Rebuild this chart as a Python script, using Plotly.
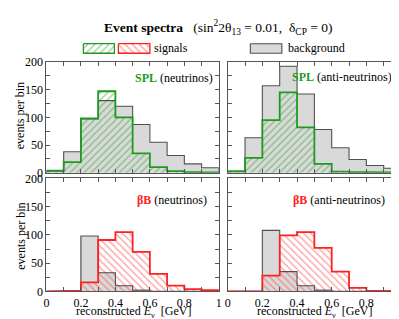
import plotly.graph_objects as go

# ---------------- data ----------------
bin_edges = [0.0, 0.1, 0.2, 0.3, 0.4, 0.5, 0.6, 0.7, 0.8, 0.9, 1.0]

spl_nu_signal = [4, 19, 98, 147, 100, 35, 10, 3, 1, 0.5]
spl_nu_background = [3, 38, 97, 130, 120, 87, 55, 31, 16, 9]

spl_anu_signal = [3, 27, 95, 145, 82, 16, 2, 1, 1, 0.5]
spl_anu_background = [2, 63, 157, 192, 142, 78, 45, 24, 13, 8]

bb_nu_signal = [0, 1, 16, 91, 105, 70, 31, 10, 4, 2]
bb_nu_background = [0, 0, 98, 33, 10, 2, 0, 0, 0, 0]

bb_anu_signal = [0, 0.5, 28, 99, 105, 77, 35, 6, 1, 0.5]
bb_anu_background = [0, 0, 108, 35, 10, 2, 0, 0, 0, 0]

x_tick_values = [0.0, 0.1, 0.2, 0.3, 0.4, 0.5, 0.6, 0.7, 0.8, 0.9, 1.0]
x_tick_labels = ["0", "", "0.2", "", "0.4", "", "0.6", "", "0.8", "", "1"]
y_tick_values = [0, 25, 50, 75, 100, 125, 150, 175, 200]
y_tick_labels = ["0", "", "50", "", "100", "", "150", "", "200"]

# ---------------- style ----------------
W, H = 399, 319
FONT = "Liberation Serif, Times New Roman, serif"
GREEN = "#1e9b1e"
GREEN_HATCH = "#36a336"
RED = "#ff2020"
RED_HATCH = "#ff4444"
GREY_FILL = "#d9d9d9"
GREY_LINE = "#505050"
AXIS_COL = "#555555"


def px(x):
    return x / W


def py(y):
    return 1 - y / H


centers = [(bin_edges[i] + bin_edges[i + 1]) / 2 for i in range(len(bin_edges) - 1)]
widths = [bin_edges[i + 1] - bin_edges[i] for i in range(len(bin_edges) - 1)]


def step_xy(vals):
    xs = [bin_edges[0]]
    ys = [0]
    for i, v in enumerate(vals):
        xs += [bin_edges[i], bin_edges[i + 1]]
        ys += [v, v]
    xs.append(bin_edges[-1])
    ys.append(0)
    return xs, ys


fig = go.Figure()

panels = [
    ("x", "y", spl_nu_signal, spl_nu_background, GREEN, GREEN_HATCH, "/"),
    ("x2", "y2", spl_anu_signal, spl_anu_background, GREEN, GREEN_HATCH, "/"),
    ("x3", "y3", bb_nu_signal, bb_nu_background, RED, RED_HATCH, "\\"),
    ("x4", "y4", bb_anu_signal, bb_anu_background, RED, RED_HATCH, "\\"),
]

for xa, ya, sig, bg, lc, hc, shp in panels:
    fig.add_trace(go.Bar(
        x=centers, y=bg, width=widths, xaxis=xa, yaxis=ya,
        marker=dict(color=GREY_FILL, line=dict(width=0)),
        showlegend=False, hoverinfo="skip"))
    fig.add_trace(go.Bar(
        x=centers, y=sig, width=widths, xaxis=xa, yaxis=ya,
        marker=dict(color="rgba(0,0,0,0)", line=dict(width=0),
                    pattern=dict(shape=shp, fgcolor=hc, bgcolor="rgba(0,0,0,0)",
                                 size=5, solidity=0.28)),
        showlegend=False, hoverinfo="skip"))
    bx, byv = step_xy(bg)
    fig.add_trace(go.Scatter(
        x=bx, y=byv, xaxis=xa, yaxis=ya, mode="lines",
        line=dict(color=GREY_LINE, width=1.1),
        showlegend=False, hoverinfo="skip"))
    sx, syv = step_xy(sig)
    fig.add_trace(go.Scatter(
        x=sx, y=syv, xaxis=xa, yaxis=ya, mode="lines",
        line=dict(color=lc, width=1.8),
        showlegend=False, hoverinfo="skip"))

# legend swatches (drawn in a pixel-coordinate overlay axis)
def box(x0, x1, y0, y1):
    return [x0, x1, x1, x0, x0], [y0, y0, y1, y1, y0]

bxs, bys = box(73.5, 105, 30, 40)
fig.add_trace(go.Scatter(x=bxs, y=bys, xaxis="x5", yaxis="y5", mode="lines",
                         fill="toself", fillcolor="white",
                         fillpattern=dict(shape="/", fgcolor=GREEN_HATCH, bgcolor="white",
                                          size=5, solidity=0.28),
                         line=dict(color=GREEN, width=1.3),
                         showlegend=False, hoverinfo="skip"))
bxs, bys = box(109, 141, 30, 40)
fig.add_trace(go.Scatter(x=bxs, y=bys, xaxis="x5", yaxis="y5", mode="lines",
                         fill="toself", fillcolor="white",
                         fillpattern=dict(shape="\\", fgcolor=RED_HATCH, bgcolor="white",
                                          size=5, solidity=0.28),
                         line=dict(color=RED, width=1.3),
                         showlegend=False, hoverinfo="skip"))
bxs, bys = box(243, 275, 30, 40)
fig.add_trace(go.Scatter(x=bxs, y=bys, xaxis="x5", yaxis="y5", mode="lines",
                         fill="toself", fillcolor=GREY_FILL,
                         line=dict(color=GREY_LINE, width=1.1),
                         showlegend=False, hoverinfo="skip"))

xdom_l = [px(36), px(211)]
xdom_r = [px(220), px(396)]
ydom_t = [py(165), py(49)]
ydom_b = [py(289), py(171)]

axis_common = dict(showline=True, linecolor=AXIS_COL, linewidth=1, mirror="allticks",
                   ticks="inside", ticklen=4, tickwidth=1, tickcolor=AXIS_COL,
                   showgrid=False, zeroline=False,
                   tickfont=dict(family=FONT, size=12, color="black"))


def xax(dom, anchor, labels):
    d = dict(axis_common)
    d.update(domain=dom, anchor=anchor, range=[0, 1], tickmode="array",
             tickvals=x_tick_values,
             ticktext=x_tick_labels if labels else [""] * len(x_tick_values))
    return d


def yax(dom, anchor, labels):
    d = dict(axis_common)
    d.update(domain=dom, anchor=anchor, range=[0, 200], tickmode="array",
             tickvals=y_tick_values,
             ticktext=y_tick_labels if labels else [""] * len(y_tick_values))
    return d


fig.update_layout(
    width=W, height=H,
    margin=dict(l=0, r=0, t=0, b=0),
    paper_bgcolor="white", plot_bgcolor="rgba(0,0,0,0)",
    barmode="overlay", bargap=0,
    font=dict(family=FONT, size=12, color="black"),
    xaxis=xax(xdom_l, "y", False), yaxis=yax(ydom_t, "x", True),
    xaxis2=xax(xdom_r, "y2", False), yaxis2=yax(ydom_t, "x2", False),
    xaxis3=xax(xdom_l, "y3", True), yaxis3=yax(ydom_b, "x3", True),
    xaxis4=xax(xdom_r, "y4", True), yaxis4=yax(ydom_b, "x4", False),
    xaxis5=dict(domain=[0, 1], anchor="y5", range=[0, W], visible=False, fixedrange=True),
    yaxis5=dict(domain=[0, 1], anchor="x5", range=[H, 0], visible=False, fixedrange=True),
)

NB = "\u00a0"
ann = [
    dict(text="<b>Event spectra</b>" + NB * 3 + "(sin<sup>2</sup>2θ<sub>13</sub> = 0.01," + NB * 2 +
         "δ<sub>CP</sub> = 0)",
         x=px(211), y=py(13), xanchor="center", yanchor="middle", font=dict(size=13.5)),
    dict(text="signals", x=px(143.5), y=py(35), xanchor="left", yanchor="middle"),
    dict(text="background", x=px(279.5), y=py(35), xanchor="left", yanchor="middle"),
    dict(text=f"<span style='color:{GREEN}'><b>SPL</b></span> (neutrinos)",
         x=px(207), y=py(66), xanchor="right", yanchor="middle"),
    dict(text=f"<span style='color:{GREEN}'><b>SPL</b></span> (anti-neutrinos)",
         x=px(389), y=py(65), xanchor="right", yanchor="middle"),
    dict(text=f"<span style='color:{RED}'><b>βB</b></span> (neutrinos)",
         x=px(126), y=py(193), xanchor="left", yanchor="middle"),
    dict(text=f"<span style='color:{RED}'><b>βB</b></span> (anti-neutrinos)",
         x=px(284), y=py(193), xanchor="left", yanchor="middle"),
    dict(text="events per bin", x=px(10), y=py(105), textangle=-90,
         xanchor="center", yanchor="middle"),
    dict(text="events per bin", x=px(10), y=py(231), textangle=-90,
         xanchor="center", yanchor="middle"),
    dict(text="reconstructed <i>E</i><sub>ν</sub>" + NB * 2 + "[GeV]",
         x=px(124), y=py(311), xanchor="center", yanchor="middle"),
    dict(text="reconstructed <i>E</i><sub>ν</sub>" + NB * 2 + "[GeV]",
         x=px(308), y=py(311), xanchor="center", yanchor="middle"),
]
for a in ann:
    a.update(xref="paper", yref="paper", showarrow=False)
fig.update_layout(annotations=ann)

fig.write_html("out.html")
